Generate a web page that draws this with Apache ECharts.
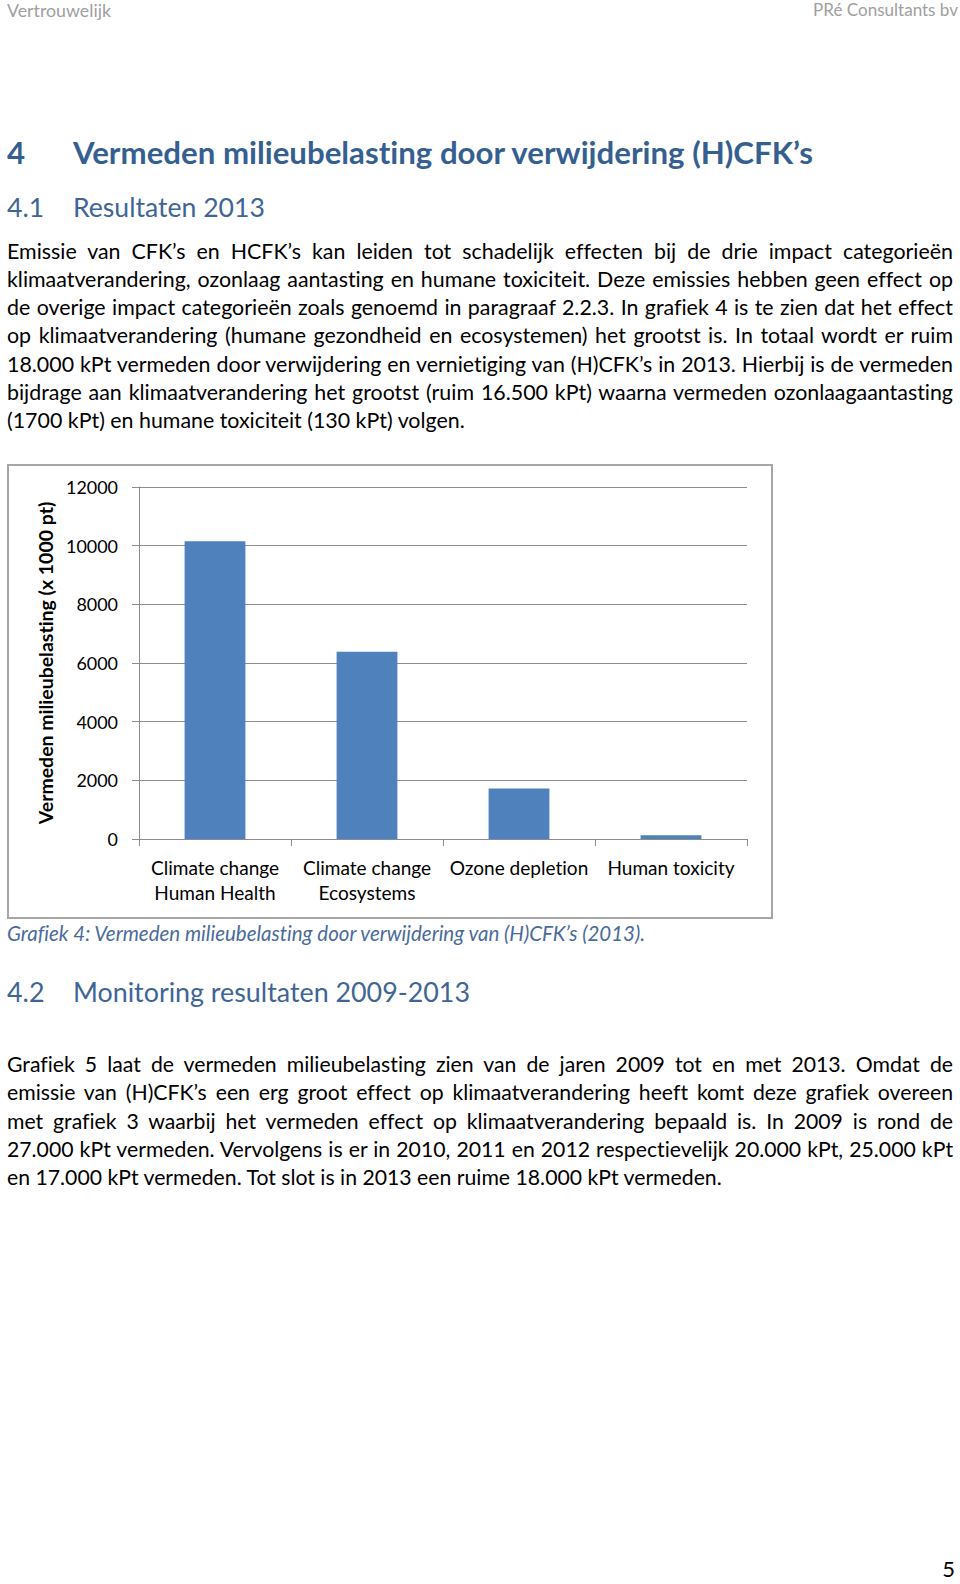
<!DOCTYPE html>
<html>
<head>
<meta charset="utf-8">
<script src="https://cdn.jsdelivr.net/npm/echarts@6/dist/echarts.min.js"></script>
<style>
  html, body { margin:0; padding:0; background:#fff; }
  body { width:960px; height:1584px; position:relative; overflow:hidden; font-family: Lato, "Open Sans", sans-serif; color:#000; font-variant-ligatures:none; }
  .t { position:absolute; white-space:nowrap; }
  .hdr { color:#a0a0a0; line-height:20px; }
  .h1 { color:#365F91; font-weight:bold; line-height:40px; }
  .h2 { color:#3E6596; line-height:36px; }
  .ln { position:absolute; left:7px; width:946px; line-height:28px; text-align:justify; text-align-last:justify; }
  .ln.last { text-align:left; text-align-last:left; }
  .cap { color:#4A6B9C; font-style:italic; line-height:26px; }
  #chartBox { position:absolute; left:8px; top:465px; width:763px; height:452px; }
  #chartBox text { font-variant-ligatures:none; }
  #frame { position:absolute; left:7px; top:464px; width:762px; height:451px; border:2px solid #a6a6a6; pointer-events:none; }
</style>
</head>
<body>
<div class="t hdr" id="hL" style="left:7px;top:0px;">Vertrouwelijk</div>
<div class="t hdr" id="hR" style="right:2px;top:0px;">PRé Consultants bv</div>

<div class="t h1" id="h1n" style="left:7px;top:132px;">4</div>
<div class="t h1" id="h1t" style="left:73px;top:132px;">Vermeden milieubelasting door verwijdering (H)CFK’s</div>

<div class="t h2" id="h2n" style="left:7px;top:189px;">4.1</div>
<div class="t h2" id="h2t" style="left:73px;top:189px;">Resultaten 2013</div>

<div class="p1">
<div class="ln" style="top:237px;">Emissie van CFK’s en HCFK’s kan leiden tot schadelijk effecten bij de drie impact categorieën</div>
<div class="ln" style="top:265px;">klimaatverandering, ozonlaag aantasting en humane toxiciteit. Deze emissies hebben geen effect op</div>
<div class="ln" style="top:293px;">de overige impact categorieën zoals genoemd in paragraaf 2.2.3. In grafiek 4 is te zien dat het effect</div>
<div class="ln" style="top:321px;">op klimaatverandering (humane gezondheid en ecosystemen) het grootst is. In totaal wordt er ruim</div>
<div class="ln" style="top:350px;">18.000 kPt vermeden door verwijdering en vernietiging van (H)CFK’s in 2013. Hierbij is de vermeden</div>
<div class="ln" style="top:378px;">bijdrage aan klimaatverandering het grootst (ruim 16.500 kPt) waarna vermeden ozonlaagaantasting</div>
<div class="ln last" id="p1last" style="top:406px;">(1700 kPt) en humane toxiciteit (130 kPt) volgen.</div>
</div>

<div id="chartBox"></div>
<div id="frame"></div>

<div class="t cap" id="cap" style="left:7px;top:920px;">Grafiek 4: Vermeden milieubelasting door verwijdering van (H)CFK’s (2013).</div>

<div class="t h2" id="h3n" style="left:7px;top:974px;">4.2</div>
<div class="t h2" id="h3t" style="left:73px;top:974px;">Monitoring resultaten 2009-2013</div>

<div class="p2">
<div class="ln" style="top:1050px;">Grafiek 5 laat de vermeden milieubelasting zien van de jaren 2009 tot en met 2013. Omdat de</div>
<div class="ln" style="top:1078px;">emissie van (H)CFK’s een erg groot effect op klimaatverandering heeft komt deze grafiek overeen</div>
<div class="ln" style="top:1107px;">met grafiek 3 waarbij het vermeden effect op klimaatverandering bepaald is. In 2009 is rond de</div>
<div class="ln" style="top:1135px;">27.000 kPt vermeden. Vervolgens is er in 2010, 2011 en 2012 respectievelijk 20.000 kPt, 25.000 kPt</div>
<div class="ln last" id="p2last" style="top:1163px;">en 17.000 kPt vermeden. Tot slot is in 2013 een ruime 18.000 kPt vermeden.</div>
</div>

<div class="t" id="pg" style="right:5px;top:1554px;line-height:30px;">5</div>

<script>
// ---------- chart data ----------
const categories = ['Climate change\nHuman Health', 'Climate change\nEcosystems', 'Ozone depletion', 'Human toxicity'];
const values = [10150, 6380, 1720, 130];
const yMin = 0, yMax = 12000, yStep = 2000;
const yTitle = 'Vermeden milieubelasting (x 1000 pt)';

// ---------- text fitting helpers ----------
const cv = document.createElement('canvas').getContext('2d');
function measure(text, size, weight, style) {
  cv.font = (style || 'normal') + ' ' + (weight || 'normal') + ' ' + size + 'px Lato';
  return cv.measureText(text).width;
}
function fitSize(text, target, weight, style) { return 100 * target / measure(text, 100, weight, style); }
function fitEl(id, target) {
  const el = document.getElementById(id);
  const cs = getComputedStyle(el);
  const s = fitSize(el.textContent, target, cs.fontWeight, cs.fontStyle);
  el.style.fontSize = s + 'px';
  return s;
}
function fitPara(sel, lastId, lastTarget) {
  const lines = document.querySelectorAll(sel + ' .ln');
  let s = fitSize(document.getElementById(lastId).textContent, lastTarget);
  lines.forEach(l => { const w = measure(l.textContent, 100); s = Math.min(s, 100 * 944 / w); });
  lines.forEach(l => l.style.fontSize = s + 'px');
}
fitEl('hL', 104); fitEl('hR', 145);
const h1s = fitEl('h1t', 742); document.getElementById('h1n').style.fontSize = h1s + 'px';
const h2s = fitEl('h2t', 192); document.getElementById('h2n').style.fontSize = h2s + 'px';
const h3s = fitEl('h3t', 397); document.getElementById('h3n').style.fontSize = h3s + 'px';
fitEl('cap', 640);
fitPara('.p1', 'p1last', 460);
fitPara('.p2', 'p2last', 717);
document.getElementById('pg').style.fontSize = '22px';

// ---------- chart ----------
const catSize = fitSize('Ozone depletion', 139);
const tickSize = fitSize('12000', 52);
const nameSize = fitSize(yTitle, 323, 'bold');

const chart = echarts.init(document.getElementById('chartBox'), null, { renderer: 'svg' });
chart.setOption({
  animation: false,
  textStyle: { fontFamily: 'Lato' },
  grid: { left: 131, top: 22, width: 608, height: 352 },
  xAxis: {
    type: 'category',
    data: categories,
    boundaryGap: true,
    axisLine: { show: true, lineStyle: { color: '#8c8c8c', width: 1 } },
    axisTick: { show: true, length: 7, inside: false, alignWithLabel: false, lineStyle: { color: '#8c8c8c' } },
    axisLabel: { interval: 0, margin: 16, fontSize: catSize, lineHeight: 25, color: '#000', fontFamily: 'Lato' }
  },
  yAxis: {
    type: 'value',
    min: yMin, max: yMax, interval: yStep,
    name: yTitle,
    nameLocation: 'middle',
    nameRotate: 90,
    nameGap: 77,
    nameTextStyle: { fontSize: nameSize, fontWeight: 'bold', color: '#000', fontFamily: 'Lato' },
    axisLine: { show: true, lineStyle: { color: '#8c8c8c', width: 1 } },
    axisTick: { show: true, length: 7, lineStyle: { color: '#8c8c8c' } },
    axisLabel: { margin: 21, fontSize: tickSize, color: '#000', fontFamily: 'Lato', formatter: v => String(v) },
    splitLine: { show: true, lineStyle: { color: '#8c8c8c', width: 1 } }
  },
  series: [{
    type: 'bar',
    data: values,
    barWidth: '40%',
    itemStyle: { color: '#4F81BD' }
  }]
});
</script>
</body>
</html>
